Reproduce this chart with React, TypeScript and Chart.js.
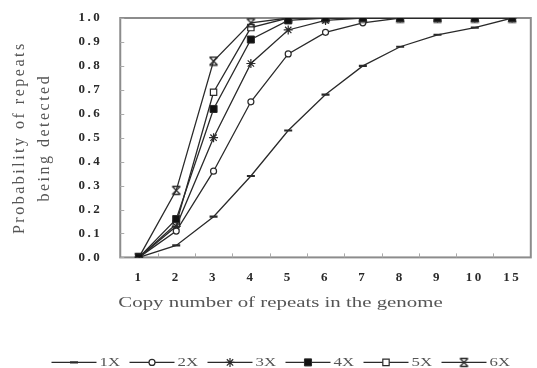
import React, { useEffect, useRef } from 'react';
import { Chart, registerables } from 'chart.js';
import { drawPoint } from 'chart.js/helpers';

Chart.register(...registerables);

const categories = ['1', '2', '3', '4', '5', '6', '7', '8', '9', '10', '15'];
const series1X = [0, 0.05, 0.17, 0.34, 0.53, 0.68, 0.80, 0.88, 0.93, 0.96, 1.0];
const series2X = [0, 0.11, 0.36, 0.65, 0.85, 0.94, 0.98, 1.0, 1.0, 1.0, 1.0];
const series3X = [0, 0.13, 0.50, 0.81, 0.95, 0.99, 1.0, 1.0, 1.0, 1.0, 1.0];
const series4X = [0, 0.16, 0.62, 0.91, 0.99, 1.0, 1.0, 1.0, 1.0, 1.0, 1.0];
const series5X = [0, 0.14, 0.69, 0.96, 1.0, 1.0, 1.0, 1.0, 1.0, 1.0, 1.0];
const series6X = [0, 0.28, 0.82, 0.98, 1.0, 1.0, 1.0, 1.0, 1.0, 1.0, 1.0];
const seriesNames = ['1X', '2X', '3X', '4X', '5X', '6X'];
const yTitleLines = ['Probability of repeats', 'being detected'];
const xTitle = 'Copy number of repeats in the genome';

const FONT = '"Liberation Serif", "Times New Roman", serif';
const LINE = '#2a2a2a';

function makeBowtie(): HTMLCanvasElement {
  const c = document.createElement('canvas');
  c.width = 11;
  c.height = 11;
  const g = c.getContext('2d')!;
  g.strokeStyle = LINE;
  g.lineWidth = 1.3;
  g.beginPath();
  g.moveTo(1.5, 1.5); g.lineTo(9.5, 1.5);
  g.moveTo(1.5, 9.5); g.lineTo(9.5, 9.5);
  g.moveTo(1.5, 1.5); g.lineTo(9.5, 9.5);
  g.moveTo(9.5, 1.5); g.lineTo(1.5, 9.5);
  g.stroke();
  return c;
}

export default function App() {
  const ref = useRef<HTMLCanvasElement>(null);
  useEffect(() => {
    const canvas = ref.current!;
    const bowtie = makeBowtie();
    const values = [series1X, series2X, series3X, series4X, series5X, series6X];
    const styles: any[] = [
      { pointStyle: 'line', radius: 4, bg: LINE, bw: 2.2 },
      { pointStyle: 'circle', radius: 3, bg: '#fff', bw: 1.2 },
      { pointStyle: 'star', radius: 4.5, bg: LINE, bw: 1.2 },
      { pointStyle: 'rect', radius: 5, bg: '#111', bw: 1 },
      { pointStyle: 'rect', radius: 4.5, bg: '#fff', bw: 1.2 },
      { pointStyle: bowtie, radius: 5, bg: LINE, bw: 1.2 },
    ];
    const orders = [1, 1, 1, -1, 1, 0];
    const datasets = values.map((v, i) => ({
      label: seriesNames[i],
      data: v,
      borderColor: LINE,
      borderWidth: 1.3,
      pointStyle: styles[i].pointStyle,
      pointRadius: styles[i].radius,
      pointBorderColor: LINE,
      pointBackgroundColor: styles[i].bg,
      pointBorderWidth: styles[i].bw,
      tension: 0,
      fill: false,
      order: orders[i],
    }));

    const framePlugin = {
      id: 'frameAndExtras',
      beforeUpdate(chart: any) { chart.ctx.letterSpacing = '2.5px'; },
      beforeDraw(chart: any) {
        const ctx = chart.ctx;
        ctx.letterSpacing = '2.5px';
        ctx.save();
        ctx.fillStyle = '#fff';
        ctx.fillRect(0, 0, chart.width, chart.height);
        ctx.restore();
      },
      beforeDatasetsDraw(chart: any) {
        const { ctx, chartArea, scales } = chart;
        const { left, top, right, bottom } = chartArea;
        ctx.save();
        ctx.strokeStyle = '#8c8c8c';
        ctx.lineWidth = 2;
        ctx.strokeRect(left, top, right - left, bottom - top);
        ctx.lineWidth = 1;
        ctx.strokeStyle = '#aaa';
        ctx.beginPath();
        scales.y.ticks.forEach((_t: any, i: number) => {
          const py = Math.round(scales.y.getPixelForTick(i)) + 0.5;
          ctx.moveTo(left, py);
          ctx.lineTo(left + 4, py);
        });
        for (let i = 1; i < categories.length; i++) {
          const px = Math.round(scales.x.getPixelForValue(i - 0.5)) + 0.5;
          ctx.moveTo(px, bottom);
          ctx.lineTo(px, bottom - 4);
        }
        ctx.stroke();
        ctx.restore();
      },
      afterDraw(chart: any) {
        const { ctx, chartArea } = chart;
        const cx = chart.width / 2 + 12;
        ctx.save();
        ctx.letterSpacing = '0px';
        // x axis title (wide type, stretched horizontally)
        const sx = 1.49;
        ctx.save();
        ctx.translate(cx, chartArea.bottom + 46);
        ctx.scale(sx, 1);
        ctx.font = `14px ${FONT}`;
        ctx.fillStyle = '#555';
        ctx.textAlign = 'center';
        ctx.textBaseline = 'middle';
        ctx.fillText(xTitle, 0, 0);
        ctx.restore();
        // legend
        const lineLen = 45;
        const pitch = 78;
        const total = (seriesNames.length - 1) * pitch + lineLen + 3 + 20;
        const startX = cx - total / 2;
        const ly = chartArea.bottom + 105;
        seriesNames.forEach((name, i) => {
          const x0 = startX + i * pitch;
          ctx.strokeStyle = LINE;
          ctx.lineWidth = 1.3;
          ctx.beginPath();
          ctx.moveTo(x0, ly);
          ctx.lineTo(x0 + lineLen, ly);
          ctx.stroke();
          ctx.fillStyle = styles[i].bg;
          ctx.strokeStyle = LINE;
          ctx.lineWidth = styles[i].bw;
          drawPoint(ctx, { pointStyle: styles[i].pointStyle, radius: styles[i].radius, borderWidth: styles[i].bw, rotation: 0 } as any, x0 + lineLen / 2, ly);
          ctx.save();
          ctx.translate(x0 + lineLen + 3, ly);
          ctx.scale(1.4, 1);
          ctx.font = `12px ${FONT}`;
          ctx.fillStyle = '#555';
          ctx.textAlign = 'left';
          ctx.textBaseline = 'middle';
          ctx.fillText(name, 0, 0);
          ctx.restore();
        });
        ctx.restore();
      },
    };

    const chart = new Chart(canvas, {
      type: 'line',
      data: { labels: categories, datasets: datasets as any },
      options: {
        responsive: false,
        animation: false,
        layout: { padding: { top: 18, right: 1, left: 0, bottom: 78 } },
        plugins: { legend: { display: false }, tooltip: { enabled: false } },
        scales: {
          x: {
            type: 'category',
            offset: true,
            grid: { display: true, drawOnChartArea: false, drawTicks: true, tickLength: 7, color: 'rgba(0,0,0,0)' },
            border: { display: false },
            ticks: {
              font: { family: FONT, size: 13, weight: 'bold' },
              color: '#2a2a2a',
              padding: 5,
              maxRotation: 0,
              autoSkip: false,
            },
          },
          y: {
            min: 0,
            max: 1,
            grid: { display: true, drawOnChartArea: false, drawTicks: true, tickLength: 14, color: 'rgba(0,0,0,0)' },
            border: { display: false },
            ticks: {
              stepSize: 0.1,
              callback: (v: any) => Number(v).toFixed(1),
              font: { family: FONT, size: 13, weight: 'bold' },
              color: '#2a2a2a',
              padding: 4,
            },
            title: {
              display: true,
              text: yTitleLines,
              font: { family: FONT, size: 16, lineHeight: 1.5625 },
              color: '#555',
              padding: { top: 7.5, bottom: 17 },
            },
          },
        },
      },
      plugins: [framePlugin],
    });
    return () => chart.destroy();
  }, []);
  return (
    <div style={{ position: 'fixed', left: 0, top: 0, width: 537, height: 368, background: '#fff' }}>
      <canvas ref={ref} width={537} height={368} />
    </div>
  );
}
